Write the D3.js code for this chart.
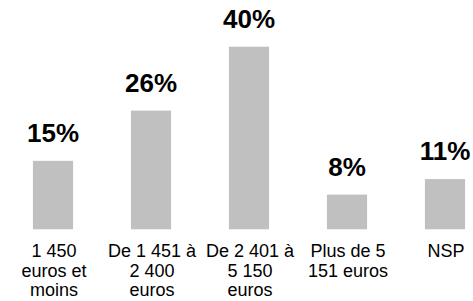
<!DOCTYPE html>
<html>
<head>
<meta charset="utf-8">
<script src="https://cdn.jsdelivr.net/npm/d3@7"></script>
<style>
  html, body { margin: 0; padding: 0; background: #fff; }
  svg { display: block; font-family: Arial, "Liberation Sans", sans-serif; }
</style>
</head>
<body>
<script>
// Data
const categories = [
  ['1 450', 'euros et', 'moins'],
  ['De 1 451 à', '2 400', 'euros'],
  ['De 2 401 à', '5 150', 'euros'],
  ['Plus de 5', '151 euros'],
  ['NSP']
];
const values = [15, 26, 40, 7.6, 11];

// Constants
const width = 473;
const height = 301;

const svg = d3.select('body')
  .append('svg')
  .attr('width', width)
  .attr('height', height);

// Scales
const x = d3.scaleBand()
  .domain(d3.range(values.length))
  .range([4, 494])
  .paddingInner(0.59)
  .paddingOuter(0.295);

const y = d3.scaleLinear()
  .domain([0, 40])
  .range([229.3, 46.7]);

// Bars
svg.append('g')
  .attr('fill', '#c0c0c0')
  .selectAll('rect')
  .data(values)
  .join('rect')
  .attr('x', (d, i) => x(i))
  .attr('y', d => y(d))
  .attr('width', x.bandwidth())
  .attr('height', d => y(0) - y(d));

// Value labels
svg.append('g')
  .attr('text-anchor', 'middle')
  .attr('font-weight', 'bold')
  .attr('font-size', 26)
  .selectAll('text')
  .data(values)
  .join('text')
  .attr('x', (d, i) => x(i) + x.bandwidth() / 2)
  .attr('y', d => y(d) - 19)
  .text(d => d3.format('.0f')(d) + '%');

// Category labels
const cat = svg.append('g')
  .attr('text-anchor', 'middle')
  .attr('font-size', 18)
  .selectAll('text')
  .data(categories)
  .join('text')
  .attr('x', (d, i) => x(i) + x.bandwidth() / 2 + 1)
  .attr('y', 257);

cat.selectAll('tspan')
  .data(d => d)
  .join('tspan')
  .attr('x', function () { return this.parentNode.getAttribute('x'); })
  .attr('dy', (d, i) => i === 0 ? 0 : 19.6)
  .text(d => d);
</script>
</body>
</html>
